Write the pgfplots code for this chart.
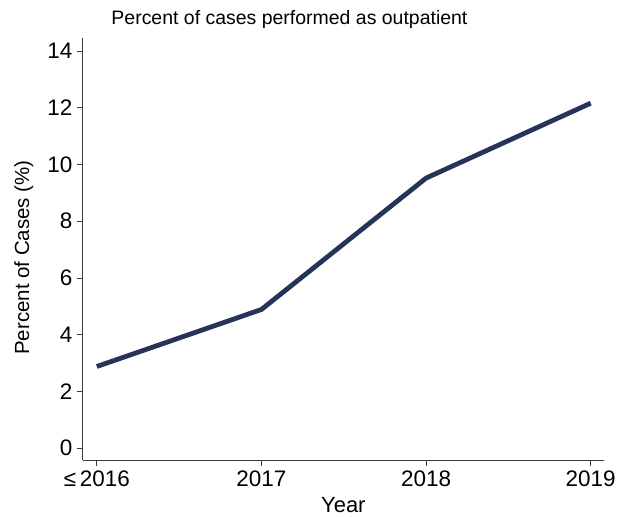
\documentclass[border=0pt]{standalone}
\usepackage{pgfplots}
\pgfplotsset{compat=1.18}
\usepackage{fontspec}
\setmainfont{Liberation Sans}
\definecolor{navyline}{RGB}{38,52,88}
\definecolor{axgray}{RGB}{60,60,60}
\begin{document}
\begin{tikzpicture}
\begin{axis}[
  at={(0pt,0pt)}, anchor=south west,
  scale only axis,
  width=522pt, height=423pt,
  xmin=-0.085, xmax=3.08,
  ymin=-0.42, ymax=14.46,
  axis lines=left,
  axis line style={-, axgray, line width=1pt},
  xtick={0,1,2,3},
  xticklabels={≤\,2016,2017,2018,2019},
  ytick={0,2,4,6,8,10,12,14},
  tick style={axgray, line width=0.8pt},
  tick align=outside,
  major tick length=6pt,
  /pgf/number format/assume math mode=true,
  tick label style={font=\fontsize{22.5}{24}\selectfont},
  xticklabel style={yshift=-1pt},
  yticklabel style={xshift=-1pt},
  clip=false,
]
\addplot[navyline, line width=4.8pt, line join=round] coordinates {
  (0,2.88) (1,4.89) (2,9.52) (3,12.16)
};
\end{axis}
\node[font=\fontsize{19.5}{21}\selectfont] at (207pt,441pt) {Percent of cases performed as outpatient};
\node[font=\fontsize{20.5}{22}\selectfont, rotate=90] at (-59pt,203pt) {Percent of Cases (\%)};
\node[font=\fontsize{22}{24}\selectfont] at (261pt,-45pt) {Year};
\path (-83pt,-55pt) rectangle (536pt,461pt);
\end{tikzpicture}
\end{document}
